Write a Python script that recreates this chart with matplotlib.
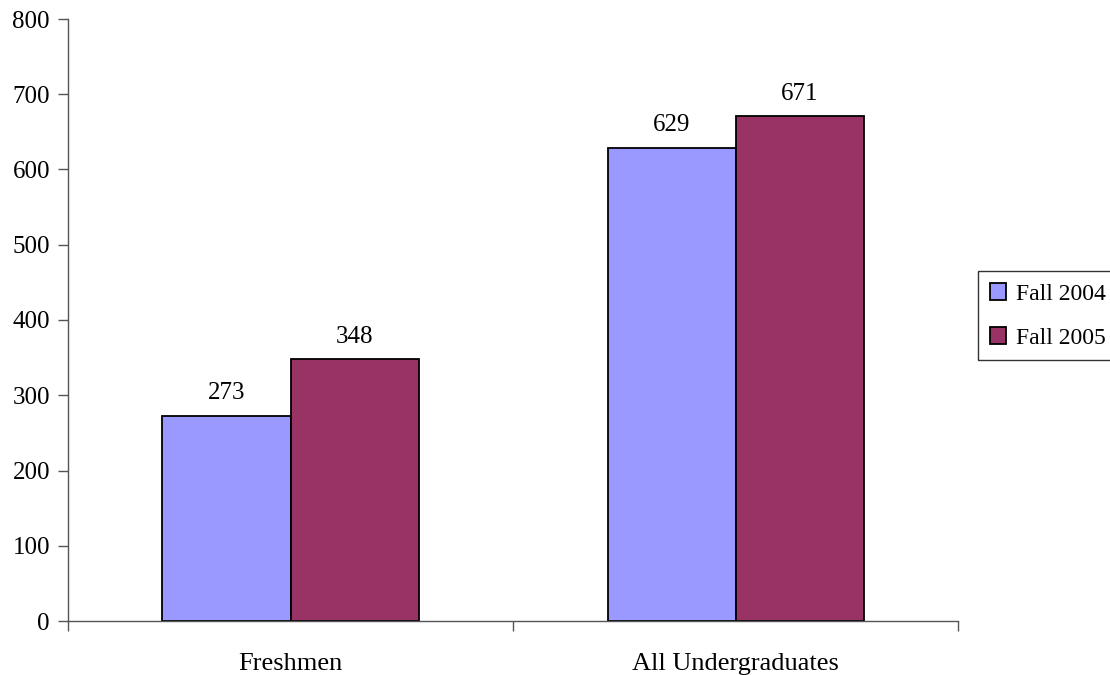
import numpy as np
import matplotlib
matplotlib.use("Agg")
import matplotlib.pyplot as plt

# ---------- Data ----------
categories = ["Freshmen", "All Undergraduates"]
series_names = ["Fall 2004", "Fall 2005"]
fall_2004 = [273, 629]
fall_2005 = [348, 671]
y_ticks = [0, 100, 200, 300, 400, 500, 600, 700, 800]

colors = ["#9999FF", "#993366"]

plt.rcParams["font.family"] = ["Liberation Serif", "DejaVu Serif"]

fig = plt.figure(figsize=(11.1, 6.75), dpi=100)
ax = fig.add_axes([68 / 1110, 54 / 675, 890 / 1110, 602 / 675])

x = np.arange(len(categories))
w = 128 / 445

for i, (vals, name) in enumerate(zip([fall_2004, fall_2005], series_names)):
    pos = x + (i - 0.5) * w
    bars = ax.bar(pos, vals, width=w, color=colors[i], edgecolor="black",
                  linewidth=1.3, label=name)
    for b, v in zip(bars, vals):
        ax.text(b.get_x() + b.get_width() / 2, v + 15, str(v),
                ha="center", va="bottom", fontsize=18)

ax.set_xlim(-0.5, 1.5)
ax.set_ylim(0, 800)
ax.set_yticks(y_ticks)
ax.tick_params(axis="y", labelsize=18, direction="out", length=7, color="#555555",
               width=1, pad=6)
ax.set_xticks([-0.5, 0.5, 1.5], minor=False)
ax.set_xticklabels([])
ax.set_xticks(x, minor=True)
ax.set_xticklabels(categories, minor=True)
ax.tick_params(axis="x", which="major", direction="out", length=7, color="#555555", width=1)
ax.tick_params(axis="x", which="minor", length=0, labelsize=19, pad=23)

for side in ["top", "right"]:
    ax.spines[side].set_visible(False)
for side in ["left", "bottom"]:
    ax.spines[side].set_color("#555555")
    ax.spines[side].set_linewidth(1)

leg = ax.legend(loc="center left", bbox_to_anchor=(1.0225, 0.507), fontsize=17,
                frameon=True, fancybox=False, edgecolor="black",
                handlelength=0.7, handleheight=0.7, handletextpad=0.4,
                borderpad=0.5, labelspacing=0.95, borderaxespad=0)
leg.get_frame().set_linewidth(1)

fig.savefig("out.png", dpi=100)
